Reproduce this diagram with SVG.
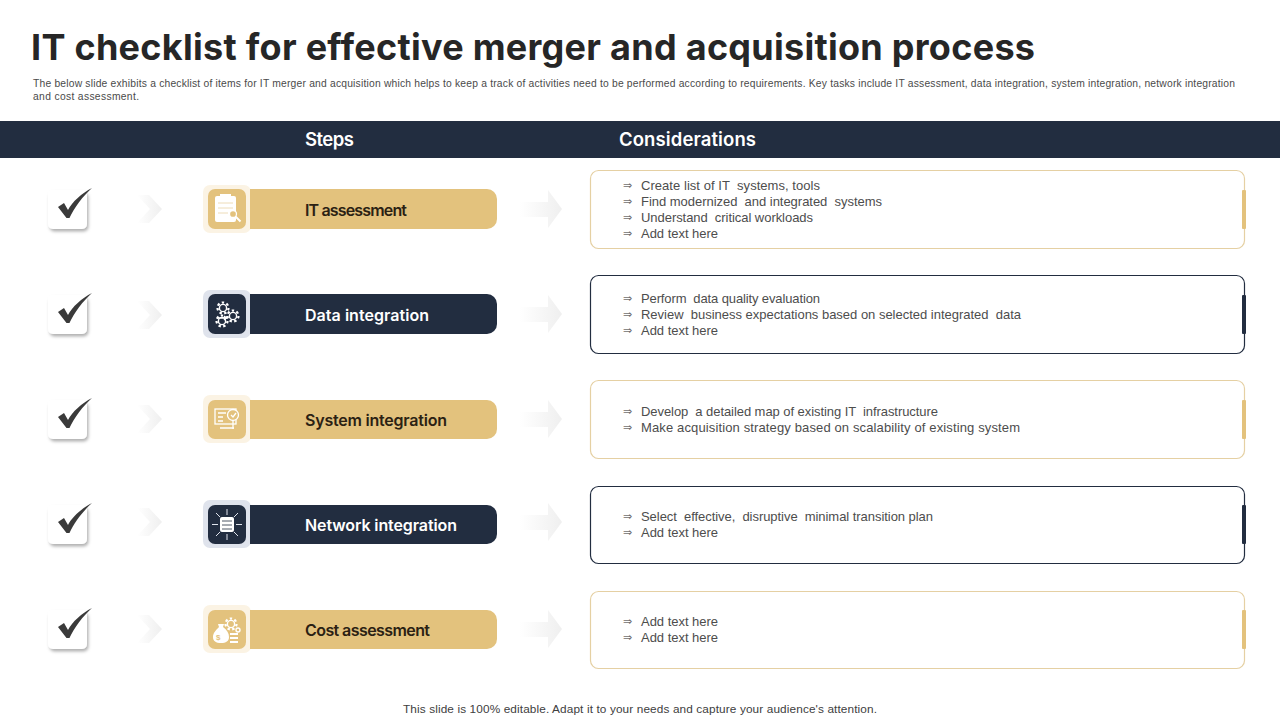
<svg xmlns="http://www.w3.org/2000/svg" width="1280" height="720" viewBox="0 0 1280 720">
<style>
text{font-family:"Liberation Sans",Arial,sans-serif;white-space:pre}
.title{font-family:Inter,"Liberation Sans",sans-serif;font-size:36px;font-weight:700;fill:#262626}
.sub{font-size:10.3px;fill:#4a4a4a}
.hd{font-family:Inter,"Liberation Sans",sans-serif;font-size:18.5px;font-weight:600;fill:#fff}
.lab{font-family:Inter,"Liberation Sans",sans-serif;font-size:16px;font-weight:600;fill:#2b2113}
.labw{font-family:Inter,"Liberation Sans",sans-serif;font-size:16px;font-weight:600;fill:#fff}
.it{font-size:13px;fill:#4d4d4d}
.ar{font-size:11px;fill:#707070;font-family:"DejaVu Sans",sans-serif}
.foot{font-size:11.8px;fill:#404040}
.gold{fill:#e3c27d}.navy{fill:#222d40}
.ic{fill:#fff}
.icl{stroke:#fff;stroke-width:1.3;fill:none}
.boxg{fill:#fff;stroke:#e5d0a3;stroke-width:1.2}
.boxn{fill:#fff;stroke:#222d40;stroke-width:1.2}
.ring{fill:none;stroke:#fff;stroke-width:1.4}
.teeth{fill:none;stroke:#fff;stroke-width:2.2;stroke-dasharray:2.400 2.400}
</style>
<defs>
<filter id="sh" x="-30%" y="-30%" width="170%" height="170%"><feDropShadow dx="1.5" dy="2.5" stdDeviation="1.5" flood-color="#000" flood-opacity=".3"/></filter>
<linearGradient id="fade"><stop offset="0" stop-color="#fff"/><stop offset="1" stop-color="#efefef"/></linearGradient>
<g id="check">
<rect x="48" y="0" width="39" height="39" rx="5" fill="#fff" filter="url(#sh)"/>
<path d="M58 17 L64 13 L68 20 C72 12 82 3 92 -2 C83 6 74 18 69.500 28 L66.500 28 Z" fill="#3a3a3a"/>
</g>
<path id="chev" d="M137 0 H149 L162 14 L149 28 H137 L150 14 Z" fill="url(#fade)"/>
<path id="arr" d="M520 12 H548 V0 L562 19 L548 38 V27 H520 Z" fill="url(#fade)"/>
<g id="gear"><circle class="ring" r="3.600"/><circle class="teeth" r="5.500"/></g>
</defs>
<g id="title">
<text class="title" x="31" y="60" textLength="1004">IT checklist for effective merger and acquisition process</text>
<text class="sub" x="33" y="87" textLength="1202">The below slide exhibits a checklist of items for IT merger and acquisition which helps to keep a track of activities need to be performed according to requirements. Key tasks include IT assessment, data integration, system integration, network integration</text>
<text class="sub" x="33" y="100" textLength="106">and cost assessment.</text>
</g>
<g id="header">
<rect y="121" width="1280" height="37" fill="#222d40"/>
<text class="hd" x="305" y="146" textLength="49">Steps</text>
<text class="hd" x="619" y="146" textLength="137">Considerations</text>
</g>
<g id="connectors">
<use href="#chev" y="195"/><use href="#arr" y="190"/>
<use href="#chev" y="301"/><use href="#arr" y="295"/>
<use href="#chev" y="405"/><use href="#arr" y="400"/>
<use href="#chev" y="508"/><use href="#arr" y="503"/>
<use href="#chev" y="615"/><use href="#arr" y="610"/>
</g>
<g id="checks">
<use href="#check" y="190"/><use href="#check" y="295"/><use href="#check" y="400"/><use href="#check" y="505"/><use href="#check" y="610"/>
</g>
<g id="step-1">
<rect x="203" y="185" width="48" height="48" rx="7" fill="#fbf3e4"/>
<path class="gold" d="M250 189 H487 a10 10 0 0 1 10 10 V219 a10 10 0 0 1 -10 10 H250 Z"/>
<rect class="gold" x="208" y="189" width="38" height="40" rx="7"/>
<rect class="ic" x="215" y="196" width="21" height="26" rx="2"/>
<rect x="220" y="194" width="11" height="4" fill="#fff"/>
<path d="M218 203h15M218 208h15M218 213h10" stroke="#eddcb8" stroke-width="1"/>
<circle cx="233" cy="214" r="3.500" fill="#e3c27d" stroke="#fff" stroke-width="1.300"/>
<path d="M235.500 216.500l5 5" stroke="#fff" stroke-width="2"/>
<text class="lab" x="305" y="216" textLength="102">IT assessment</text>
</g>
<g id="step-2">
<rect x="203" y="290" width="48" height="48" rx="7" fill="#dfe3ec"/>
<path class="navy" d="M250 294 H487 a10 10 0 0 1 10 10 V324 a10 10 0 0 1 -10 10 H250 Z"/>
<rect class="navy" x="208" y="294" width="38" height="40" rx="7"/>
<use href="#gear" x="223" y="308"/>
<use href="#gear" x="233" y="316"/>
<use href="#gear" x="222" y="321"/>
<path class="icl" d="M217 318h9l-2-2M226 318l-2 2"/>
<text class="labw" x="305" y="321" textLength="124">Data integration</text>
</g>
<g id="step-3">
<rect x="203" y="395" width="48" height="48" rx="7" fill="#fbf3e4"/>
<path class="gold" d="M250 400 H487 a10 10 0 0 1 10 10 V429 a10 10 0 0 1 -10 10 H250 Z"/>
<rect class="gold" x="208" y="400" width="38" height="39" rx="7"/>
<rect class="icl" x="215" y="409" width="21" height="15"/>
<path class="icl" d="M218 413h8M218 417h5M218 421h5M220 428h14"/>
<circle cx="233" cy="415" r="5.500" fill="#e3c27d" stroke="#fff" stroke-width="1.300"/>
<path class="icl" d="M233 421v8M231 415l2 2 3-4"/>
<text class="lab" x="305" y="426" textLength="142">System integration</text>
</g>
<g id="step-4">
<rect x="203" y="500" width="48" height="48" rx="7" fill="#dfe3ec"/>
<path class="navy" d="M250 505 H487 a10 10 0 0 1 10 10 V534 a10 10 0 0 1 -10 10 H250 Z"/>
<rect class="navy" x="208" y="505" width="38" height="39" rx="7"/>
<rect class="ic" x="220" y="517" width="14" height="15" rx="2"/>
<path d="M222 521h10M222 525h10M222 529h10" stroke="#222d40" stroke-width=".8"/>
<path d="M227 509v6M227 534v6M212 524.500h6M236 524.500h6M216 513l4 4M234 532l4 4M238 513l-4 4M220 532l-4 4" stroke="#dfe3ec" stroke-width="1"/>
<text class="labw" x="305" y="531" textLength="152">Network integration</text>
</g>
<g id="step-5">
<rect x="203" y="605" width="48" height="48" rx="7" fill="#fbf3e4"/>
<path class="gold" d="M250 610 H487 a10 10 0 0 1 10 10 V639 a10 10 0 0 1 -10 10 H250 Z"/>
<rect class="gold" x="208" y="610" width="38" height="39" rx="7"/>
<path class="ic" d="M218 624 h6 l-1 3 c4 3 6 6 6 10 c0 4 -3 6 -8 6 c-5 0 -8 -2 -8 -6 c0 -4 3 -7 6 -10 Z"/>
<path class="ic" d="M230 633h8v2h-8zM230 637h8v2h-8zM230 641h8v2h-8z"/>
<use href="#gear" x="231" y="624"/>
<circle class="ring" cx="238" cy="630" r="2"/>
<text x="216" y="640" font-size="8" font-weight="700" fill="#e3c27d">$</text>
<text class="lab" x="305" y="636" textLength="125">Cost assessment</text>
</g>
<g id="box-1">
<rect class="boxg" x="590.500" y="170.500" width="654" height="78" rx="8"/>
<rect class="gold" x="1242" y="190" width="4" height="39" rx="1"/>
<text class="ar" x="623" y="189">⇒</text><text class="it" x="641" y="190" textLength="179">Create list of IT  systems, tools</text>
<text class="ar" x="623" y="205">⇒</text><text class="it" x="641" y="206" textLength="241">Find modernized  and integrated  systems</text>
<text class="ar" x="623" y="221">⇒</text><text class="it" x="641" y="222" textLength="172">Understand  critical workloads</text>
<text class="ar" x="623" y="237">⇒</text><text class="it" x="641" y="238" textLength="77">Add text here</text>
</g>
<g id="box-2">
<rect class="boxn" x="590.500" y="275.500" width="654" height="78" rx="8"/>
<rect class="navy" x="1242" y="295" width="4" height="39" rx="1"/>
<text class="ar" x="623" y="302">⇒</text><text class="it" x="641" y="303" textLength="179">Perform  data quality evaluation</text>
<text class="ar" x="623" y="318">⇒</text><text class="it" x="641" y="319" textLength="380">Review  business expectations based on selected integrated  data</text>
<text class="ar" x="623" y="334">⇒</text><text class="it" x="641" y="335" textLength="77">Add text here</text>
</g>
<g id="box-3">
<rect class="boxg" x="590.500" y="380.500" width="654" height="78" rx="8"/>
<rect class="gold" x="1242" y="400" width="4" height="39" rx="1"/>
<text class="ar" x="623" y="415">⇒</text><text class="it" x="641" y="416" textLength="297">Develop  a detailed map of existing IT  infrastructure</text>
<text class="ar" x="623" y="431">⇒</text><text class="it" x="641" y="432" textLength="379">Make acquisition strategy based on scalability of existing system</text>
</g>
<g id="box-4">
<rect class="boxn" x="590.500" y="486.500" width="654" height="77" rx="8"/>
<rect class="navy" x="1242" y="505" width="4" height="39" rx="1"/>
<text class="ar" x="623" y="520">⇒</text><text class="it" x="641" y="521" textLength="292">Select  effective,  disruptive  minimal transition plan</text>
<text class="ar" x="623" y="536">⇒</text><text class="it" x="641" y="537" textLength="77">Add text here</text>
</g>
<g id="box-5">
<rect class="boxg" x="590.500" y="591.500" width="654" height="77" rx="8"/>
<rect class="gold" x="1242" y="610" width="4" height="39" rx="1"/>
<text class="ar" x="623" y="625">⇒</text><text class="it" x="641" y="626" textLength="77">Add text here</text>
<text class="ar" x="623" y="641">⇒</text><text class="it" x="641" y="642" textLength="77">Add text here</text>
</g>
<text id="footer" class="foot" x="403" y="713" textLength="474">This slide is 100% editable. Adapt it to your needs and capture your audience's attention.</text>
</svg>
